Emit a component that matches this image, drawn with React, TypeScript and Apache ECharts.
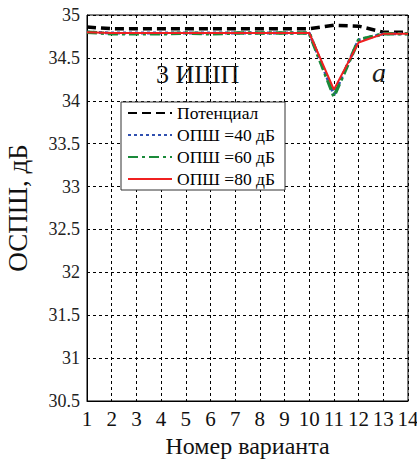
import React, { useEffect, useRef } from "react";
import * as echarts from "echarts";

const variants = [1, 2, 3, 4, 5, 6, 7, 8, 9, 10, 11, 12, 13, 14];
const potential = [34.86, 34.84, 34.84, 34.84, 34.84, 34.84, 34.84, 34.84, 34.84, 34.84, 34.88, 34.87, 34.8, 34.8];
const snr40 = [34.8, 34.79, 34.79, 34.79, 34.79, 34.79, 34.79, 34.79, 34.79, 34.79, 34.07, 34.71, 34.78, 34.78];
const snr60 = [34.8, 34.78, 34.78, 34.78, 34.79, 34.78, 34.79, 34.79, 34.79, 34.79, 34.05, 34.71, 34.78, 34.78];
const snr80 = [34.8, 34.79, 34.79, 34.79, 34.79, 34.79, 34.79, 34.79, 34.79, 34.79, 34.13, 34.68, 34.78, 34.78];
const seriesNames = ["Потенциал", "ОПШ =40 дБ", "ОПШ =60 дБ", "ОПШ =80 дБ"];

const FONT = "Liberation Serif";

export default function App() {
  const ref = useRef<HTMLDivElement>(null);
  useEffect(() => {
    const chart = echarts.init(ref.current!, null, { renderer: "svg" });
    const pair = (arr: number[]) => variants.map((v, i) => [v, arr[i]]);
    chart.setOption({
      animation: false,
      backgroundColor: "#fff",
      textStyle: { fontFamily: FONT },
      grid: {
        left: 87, right: 9, top: 15, bottom: 66, show: true, borderColor: "#000", borderWidth: 1,
        containLabel: false, outerBoundsMode: "none",
      },
      xAxis: {
        type: "value",
        min: 1,
        max: 14,
        interval: 1,
        axisLine: { lineStyle: { color: "#000" } },
        axisTick: { show: false },
        axisLabel: { color: "#111", fontFamily: FONT, fontSize: 21, margin: 7 },
        splitLine: { show: true, lineStyle: { color: "#000", type: [3, 3], width: 1 } },
        name: "Номер варианта",
        nameLocation: "middle",
        nameGap: 33,
        nameTextStyle: { color: "#111", fontFamily: FONT, fontSize: 24 },
      },
      yAxis: {
        type: "value",
        min: 30.5,
        max: 35,
        interval: 0.5,
        axisLine: { lineStyle: { color: "#000" } },
        axisTick: { show: false },
        axisLabel: { color: "#222", fontFamily: FONT, fontSize: 18, margin: 7 },
        splitLine: { show: true, lineStyle: { color: "#000", type: [3, 3], width: 1 } },
        name: "ОСПШ, дБ",
        nameLocation: "middle",
        nameGap: 56,
        nameTextStyle: { color: "#111", fontFamily: FONT, fontSize: 27 },
      },
      legend: {
        left: 121,
        top: 102,
        orient: "vertical",
        data: seriesNames,
        backgroundColor: "#fff",
        borderColor: "#333",
        borderWidth: 1,
        padding: [2, 10, 2, 6],
        itemWidth: 44,
        itemHeight: 14,
        itemGap: 4,
        itemStyle: { opacity: 0 },
        textStyle: { color: "#000", fontFamily: FONT, fontSize: 17.5 },
      },
      graphic: [
        { type: "text", left: 156, top: 61, style: { text: "3 ИШП", fontFamily: FONT, fontSize: 26, fill: "#111" } },
        { type: "text", left: 372, top: 58, style: { text: "a", fontFamily: FONT, fontStyle: "italic", fontSize: 28, fill: "#222" } },
      ],
      series: [
        {
          name: seriesNames[0], type: "line", data: pair(potential), symbol: "none",
          lineStyle: { color: "#000", width: 3.5, type: [9, 5] }, itemStyle: { color: "#000" }, z: 2,
        },
        {
          name: seriesNames[1], type: "line", data: pair(snr40), symbol: "none",
          lineStyle: { color: "#3050b0", width: 3, type: [3, 3] }, itemStyle: { color: "#3050b0" }, z: 3,
        },
        {
          name: seriesNames[2], type: "line", data: pair(snr60), symbol: "none",
          lineStyle: { color: "#1a8a3a", width: 3.5, type: [10, 4, 3, 4] }, itemStyle: { color: "#1a8a3a" }, z: 4,
        },
        {
          name: seriesNames[3], type: "line", data: pair(snr80), symbol: "none",
          lineStyle: { color: "#f02020", width: 2, type: "solid" }, itemStyle: { color: "#f02020" }, z: 5,
        },
      ],
    });
    return () => chart.dispose();
  }, []);
  return <div ref={ref} style={{ width: 417, height: 467, position: "absolute", left: 0, top: 0 }} />;
}
